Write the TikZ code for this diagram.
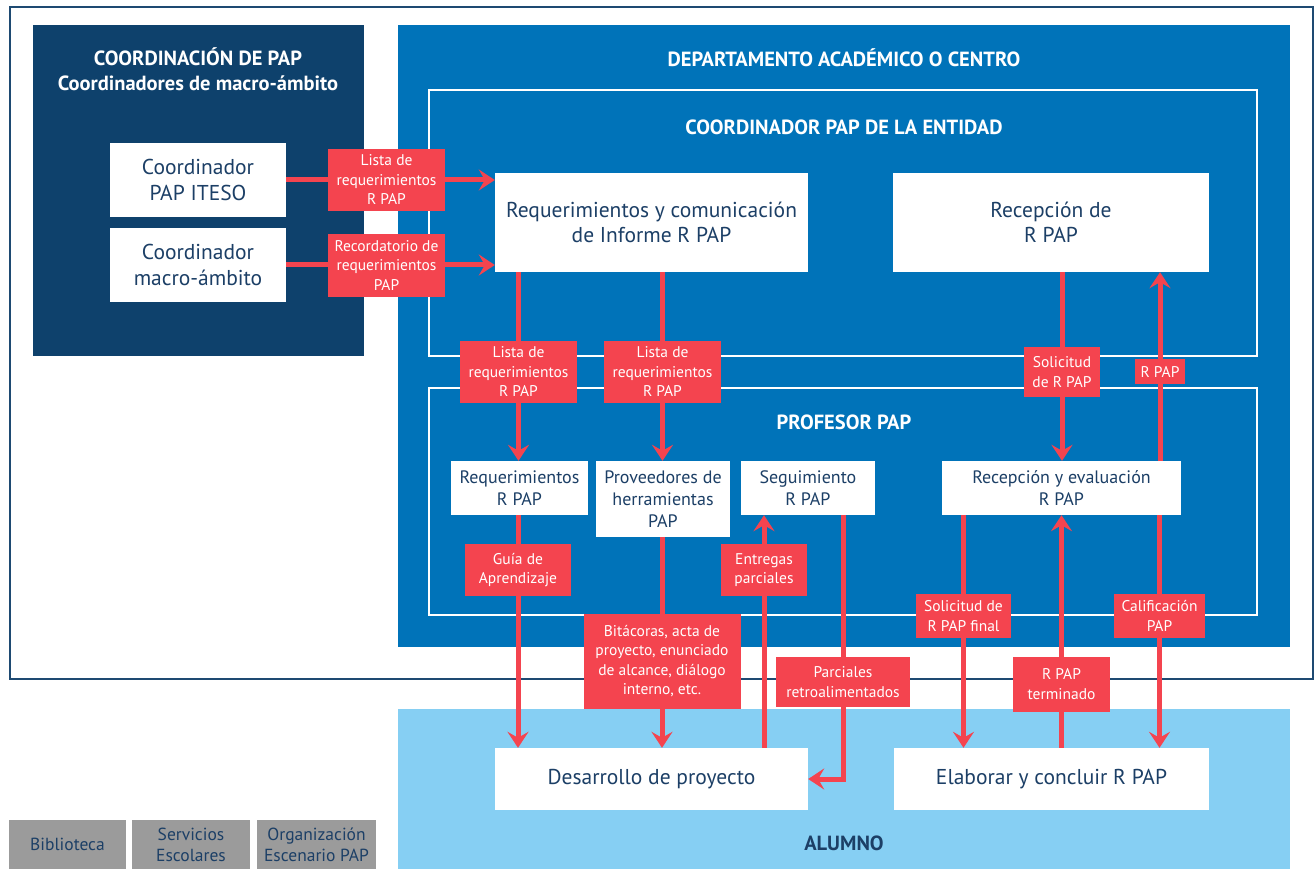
\documentclass[tikz,border=0pt]{standalone}
\usepackage{fontspec}
\setmainfont{PT Sans}
\usetikzlibrary{arrows.meta}
\definecolor{navy}{HTML}{0E416C}
\definecolor{dblue}{HTML}{0073B9}
\definecolor{lblue}{HTML}{86CFF3}
\definecolor{pred}{HTML}{F4444F}
\definecolor{txtnavy}{HTML}{1C3F66}
\definecolor{gbox}{HTML}{9B9B9B}
\definecolor{framec}{HTML}{1E4A72}
\tikzset{
  wbox/.style={fill=white, text=txtnavy, align=center, inner sep=0pt, font=\fontsize{21.5}{25.5}\selectfont},
  sbox/.style={wbox, font=\fontsize{18}{22}\selectfont},
  gray box/.style={fill=gbox, text=txtnavy, align=center, inner sep=0pt, minimum height=49, font=\fontsize{17.5}{21}\selectfont},
  lab/.style={fill=pred, text=white, align=center, inner sep=0pt, font=\fontsize{15.5}{19.5}\selectfont},
  conn/.style={draw=pred, line width=5pt, -{Stealth[length=16pt,width=21pt,inset=6pt]}},
  ttl/.style={text=white, align=center, inner sep=0pt, font=\bfseries\fontsize{20.5}{25}\selectfont},
  outline/.style={draw=white, line width=1.6pt, inner sep=0pt},
}
\begin{document}
\begin{tikzpicture}[x=1pt,y=-1pt]
\useasboundingbox (0,0) rectangle (1315,869);
% containers
\node[draw=framec, line width=1.5pt, fill=white, minimum width=1303, minimum height=672, inner sep=0pt] (frame) at (661.5,343) {};
\node[fill=navy, minimum width=331, minimum height=331, inner sep=0pt] (coordpap) at (198.5,190.5) {};
\node[fill=dblue, minimum width=892, minimum height=622, inner sep=0pt] (depto) at (844,336) {};
\node[outline, minimum width=828, minimum height=266] (entidad) at (843,223) {};
\node[outline, minimum width=828, minimum height=227] (profesor) at (843,501.5) {};
\node[fill=lblue, minimum width=892, minimum height=160, inner sep=0pt] (alumno) at (844,789) {};
% titles
\node[ttl] (t1) at (198,69) {COORDINACIÓN DE PAP\\Coordinadores de macro-ámbito};
\node[ttl] (t2) at (844,58) {DEPARTAMENTO ACADÉMICO O CENTRO};
\node[ttl] (t3) at (844,127) {COORDINADOR PAP DE LA ENTIDAD};
\node[ttl] (t4) at (844,422) {PROFESOR PAP};
\node[ttl, text=txtnavy] (t5) at (844,843) {ALUMNO};
% white boxes
\node[wbox, minimum width=176, minimum height=74] (iteso) at (198,180) {Coordinador\\PAP ITESO};
\node[wbox, minimum width=176, minimum height=74] (macro) at (198,265) {Coordinador\\macro-ámbito};
\node[wbox, minimum width=313, minimum height=99] (req) at (651.5,222.5) {Requerimientos y comunicación\\de Informe R PAP};
\node[wbox, minimum width=316, minimum height=99] (recep) at (1051,222.5) {Recepción de\\R PAP};
\node[sbox, minimum width=137, minimum height=54] (reqR) at (519.5,488) {Requerimientos\\R PAP};
\node[sbox, minimum width=134, minimum height=76] (prov) at (663,499) {Proveedores de\\herramientas\\PAP};
\node[sbox, minimum width=134, minimum height=54] (seg) at (808,488) {Seguimiento\\R PAP};
\node[sbox, minimum width=239, minimum height=54] (receval) at (1061.5,488) {Recepción y evaluación\\R PAP};
\node[wbox, minimum width=313, minimum height=62] (desa) at (651.5,779) {Desarrollo de proyecto};
\node[wbox, minimum width=315, minimum height=62] (elab) at (1051.5,779) {Elaborar y concluir R PAP};
% gray boxes
\node[gray box, minimum width=117] (bib) at (67.5,844.5) {Biblioteca};
\node[gray box, minimum width=118] (serv) at (191,844.5) {Servicios\\Escolares};
\node[gray box, minimum width=119] (org) at (316.5,844.5) {Organización\\Escenario PAP};
% label positions
\coordinate (cA) at (386.5,180);
\coordinate (cC) at (518.5,372);
\coordinate (cD) at (662.5,372);
\coordinate (cE) at (1062,372);
\coordinate (cF) at (1160,371.5);
\coordinate (cG) at (518,570);
\coordinate (cH) at (764,570);
\coordinate (cI) at (662,661);
\coordinate (cJ) at (843,682);
\coordinate (cK) at (963.5,616);
\coordinate (cL) at (1061.5,684);
\coordinate (cM) at (1159.5,616);
% connectors
\draw[conn] (iteso.east) -- (iteso.east -| req.west);
\draw[conn] (macro.east) -- (macro.east -| req.west);
\draw[conn] (req.south -| cC) -- (reqR.north -| cC);
\draw[conn] (req.south -| cD) -- (prov.north -| cD);
\draw[conn] (recep.south -| cE) -- (receval.north -| cE);
\draw[conn] (receval.north -| cF) -- (recep.south -| cF);
\draw[conn] (reqR.south -| cG) -- (desa.north -| cG);
\draw[conn] (prov.south -| cI) -- (desa.north -| cI);
\draw[conn] (desa.north -| cH) -- (seg.south -| cH);
\draw[conn] (seg.south -| cJ) |- (desa.east);
\draw[conn] (receval.south -| cK) -- (elab.north -| cK);
\draw[conn] (elab.north -| cL) -- (receval.south -| cL);
\draw[conn] (receval.south -| cM) -- (elab.north -| cM);
% labels
\node[lab, minimum width=117, minimum height=62] (labA) at (cA) {Lista de\\requerimientos\\R PAP};
\node[lab, minimum width=117, minimum height=63] (labB) at (386.5,265.5) {Recordatorio de\\requerimientos\\PAP};
\node[lab, minimum width=117, minimum height=62] (labC) at (cC) {Lista de\\requerimientos\\R PAP};
\node[lab, minimum width=117, minimum height=62] (labD) at (cD) {Lista de\\requerimientos\\R PAP};
\node[lab, minimum width=76, minimum height=50] (labE) at (cE) {Solicitud\\de R PAP};
\node[lab, minimum width=50, minimum height=25] (labF) at (cF) {R PAP};
\node[lab, minimum width=106, minimum height=52] (labG) at (cG) {Guía de\\Aprendizaje};
\node[lab, minimum width=86, minimum height=52] (labH) at (cH) {Entregas\\parciales};
\node[lab, minimum width=157, minimum height=95] (labI) at (cI) {Bitácoras, acta de\\proyecto, enunciado\\de alcance, diálogo\\interno, etc.};
\node[lab, minimum width=134, minimum height=50] (labJ) at (cJ) {Parciales\\retroalimentados};
\node[lab, minimum width=95, minimum height=44] (labK) at (cK) {Solicitud de\\R PAP final};
\node[lab, minimum width=97, minimum height=55] (labL) at (cL) {R PAP\\terminado};
\node[lab, minimum width=91, minimum height=44] (labM) at (cM) {Calificación\\PAP};
\end{tikzpicture}
\end{document}
